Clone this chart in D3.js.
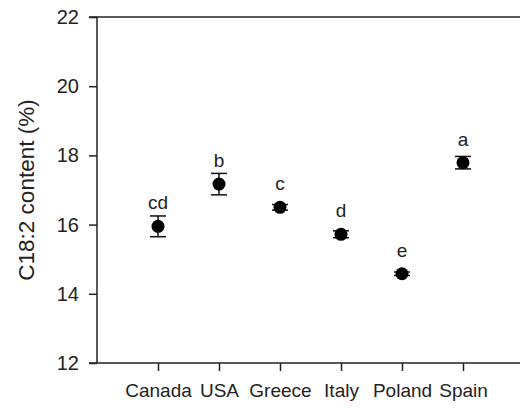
<!DOCTYPE html>
<html>
<head>
<meta charset="utf-8">
<script src="https://cdn.jsdelivr.net/npm/d3@7"></script>
<style>
  body { margin: 0; background: #fff; }
  svg { display: block; font-family: "Liberation Sans", Arial, sans-serif; }
</style>
</head>
<body>
<div id="chart"></div>
<script>
const countries = ["Canada", "USA", "Greece", "Italy", "Poland", "Spain"];
const means = [15.95, 17.17, 16.5, 15.72, 14.58, 17.79];
const errors = [0.3, 0.31, 0.08, 0.1, 0.05, 0.18];
const letters = ["cd", "b", "c", "d", "e", "a"];
const yTicks = [12, 14, 16, 18, 20, 22];

const width = 520, height = 409;
const margin = {top: 17, right: 0, bottom: 46, left: 97};

const svg = d3.select("#chart")
  .append("svg")
  .attr("width", width)
  .attr("height", height);

const y = d3.scaleLinear()
  .domain([12, 22])
  .range([height - margin.bottom, margin.top]);

const x = d3.scalePoint()
  .domain(countries)
  .range([158, 463]);

// y axis
const yAxis = svg.append("g")
  .attr("transform", `translate(${margin.left},0)`)
  .call(d3.axisLeft(y).tickValues(yTicks).tickSize(8).tickPadding(10));
yAxis.select(".domain").attr("d", `M0,${y(22)}V${y(12)}`);

// bottom axis
const xAxis = svg.append("g")
  .attr("transform", `translate(0,${y(12)})`)
  .call(d3.axisBottom(x).tickSize(8).tickPadding(13));
xAxis.select(".domain").attr("d", `M${margin.left - 8},0H${width}`);

// top frame line
svg.append("line")
  .attr("x1", margin.left - 8).attr("x2", width)
  .attr("y1", y(22)).attr("y2", y(22))
  .attr("stroke", "#222").attr("stroke-width", 1.5);

svg.selectAll(".domain, .tick line")
  .attr("stroke", "#222").attr("stroke-width", 1.5);
yAxis.selectAll(".tick text")
  .attr("font-size", 20).attr("fill", "#222");
xAxis.selectAll(".tick text")
  .attr("font-size", 19).attr("fill", "#222");

const rows = countries.map((c, i) => ({c, m: means[i], e: errors[i], l: letters[i]}));

// error bars
const eb = svg.append("g").selectAll("g")
  .data(rows)
  .join("g")
  .attr("stroke", "#111")
  .attr("stroke-width", 1.5);
eb.append("line")
  .attr("x1", d => x(d.c)).attr("x2", d => x(d.c))
  .attr("y1", d => y(d.m + d.e)).attr("y2", d => y(d.m - d.e));
eb.append("line")
  .attr("x1", d => x(d.c) - 8).attr("x2", d => x(d.c) + 8)
  .attr("y1", d => y(d.m + d.e)).attr("y2", d => y(d.m + d.e));
eb.append("line")
  .attr("x1", d => x(d.c) - 8).attr("x2", d => x(d.c) + 8)
  .attr("y1", d => y(d.m - d.e)).attr("y2", d => y(d.m - d.e));

// points
svg.append("g")
  .selectAll("circle")
  .data(rows)
  .join("circle")
  .attr("cx", d => x(d.c))
  .attr("cy", d => y(d.m))
  .attr("r", 6.5)
  .attr("fill", "#000");

// significance letters
svg.append("g")
  .selectAll("text")
  .data(rows)
  .join("text")
  .attr("x", d => x(d.c))
  .attr("y", d => y(d.m) - 17)
  .attr("text-anchor", "middle")
  .attr("font-size", 19)
  .attr("fill", "#222")
  .text(d => d.l);

// y axis title
svg.append("text")
  .attr("transform", `translate(34,${(y(12) + y(22)) / 2}) rotate(-90)`)
  .attr("text-anchor", "middle")
  .attr("font-size", 22.5)
  .attr("fill", "#222")
  .text("C18:2 content (%)");
</script>
</body>
</html>
